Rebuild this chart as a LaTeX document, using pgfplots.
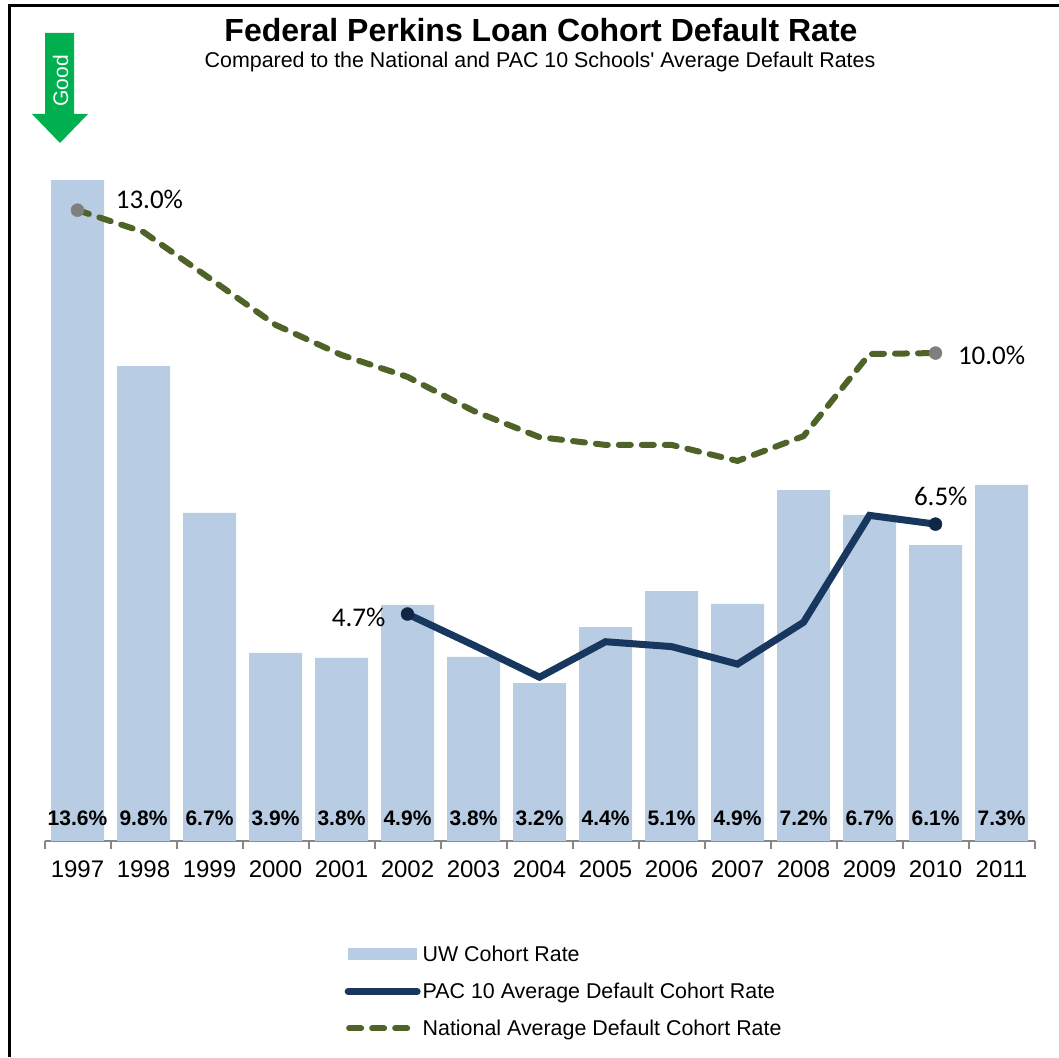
\documentclass[border=0pt]{standalone}
\usepackage{pgfplots}
\pgfplotsset{compat=1.18}
\usepackage{fontspec}
\setmainfont{Liberation Sans}
\newfontfamily\plainsans{Liberation Sans}
\newfontfamily\calib{Carlito}
\definecolor{barc}{HTML}{B8CCE4}
\definecolor{navy}{HTML}{17375E}
\definecolor{navyd}{HTML}{0F2747}
\definecolor{olive}{HTML}{4F6228}
\definecolor{dotg}{HTML}{7F7F7F}
\definecolor{axg}{HTML}{868686}
\definecolor{grn}{HTML}{00B050}
\newcommand{\fs}[1]{\fontsize{#1pt}{#1pt}\selectfont}
\begin{document}
\begin{tikzpicture}[x=1pt,y=1pt]
\useasboundingbox (0,0) rectangle (1059,1057);
\draw[line width=3pt,black] (9.5,0) -- (9.5,1051.5) -- (1059,1051.5);
\begin{axis}[
  at={(44.5pt,216pt)}, anchor=south west,
  scale only axis, width=990pt, height=680.4pt,
  xmin=-0.5, xmax=14.5, ymin=0, ymax=14,
  clip=false,
  axis x line=bottom, axis y line=none,
  axis line style={-, line width=2.5pt, color=axg},
  xtick={0,...,14},
  xticklabels={1997,1998,1999,2000,2001,2002,2003,2004,2005,2006,2007,2008,2009,2010,2011},
  major tick length=0pt,
  minor xtick={-0.5,0.5,...,14.5},
  minor tick length=8pt,
  tick align=outside,
  minor x tick style={line width=2pt, color=axg},
  xticklabel style={font=\fs{24}, inner sep=0pt, text height=17pt, text depth=0pt, yshift=-19pt},
  legend style={at={(0.303,-0.151)}, anchor=north west, draw=none, fill=none, inner sep=0pt, row sep=16pt, font=\fs{21.4}, /tikz/every even column/.append style={column sep=10pt}},
  legend cell align=left,
]
\addplot[ybar, bar width=53pt, fill=barc, draw=none,
  legend image code/.code={\fill[barc] (0pt,-6pt) rectangle (69pt,6pt);}]
  coordinates {(0,13.6)(1,9.77)(2,6.75)(3,3.87)(4,3.77)(5,4.86)(6,3.79)(7,3.25)(8,4.4)(9,5.14)(10,4.88)(11,7.22)(12,6.71)(13,6.09)(14,7.33)};
\addlegendentry{UW Cohort Rate}
\addplot[color=navy, line width=7pt, line join=miter,
  legend image code/.code={\draw[navy,line width=7pt,line cap=round] (0pt,0pt) -- (69pt,0pt);}]
  coordinates {(5,4.67)(6,4.03)(7,3.37)(8,4.10)(9,4.00)(10,3.64)(11,4.50)(12,6.70)(13,6.52)};
\addlegendentry{PAC 10 Average Default Cohort Rate}
\addplot[color=olive, line width=6pt, line cap=round, dash pattern=on 12pt off 11pt,
  legend image code/.code={\draw[olive,line width=6pt,line cap=round,dash pattern=on 12pt off 11pt] (1pt,0pt) -- (64pt,0pt);}]
  coordinates {(0,12.98)(1,12.53)(2,11.58)(3,10.62)(4,10.0)(5,9.55)(6,8.85)(7,8.31)(8,8.15)(9,8.15)(10,7.82)(11,8.33)(12,10.02)(13,10.04)};
\addlegendentry{National Average Default Cohort Rate}
\addplot[forget plot, only marks, mark=*, mark size=6.5pt, mark options={fill=navyd, draw=navyd}]
  coordinates {(5,4.67)(13,6.52)};
\addplot[forget plot, only marks, mark=*, mark size=6.5pt, mark options={fill=dotg, draw=dotg}]
  coordinates {(0,12.98)(13,10.04)};
\addplot[forget plot, only marks, mark=none, nodes near coords, point meta=explicit symbolic,
  nodes near coords align=center, every node near coord/.append style={font=\fs{21}\bfseries, inner sep=0pt, anchor=center}]
  coordinates {(0,0.47)[13.6\%] (1,0.47)[9.8\%] (2,0.47)[6.7\%] (3,0.47)[3.9\%] (4,0.47)[3.8\%] (5,0.47)[4.9\%] (6,0.47)[3.8\%] (7,0.47)[3.2\%] (8,0.47)[4.4\%] (9,0.47)[5.1\%] (10,0.47)[4.9\%] (11,0.47)[7.2\%] (12,0.47)[6.7\%] (13,0.47)[6.1\%] (14,0.47)[7.3\%]};
\node[font=\calib\fs{27}, inner sep=0pt] at (axis cs:1.09,13.2) {13.0\%};
\node[font=\calib\fs{27}, inner sep=0pt] at (axis cs:13.85,10.0) {10.0\%};
\node[font=\calib\fs{27}, inner sep=0pt] at (axis cs:13.08,7.1) {6.5\%};
\node[font=\calib\fs{27}, inner sep=0pt] at (axis cs:4.26,4.6) {4.7\%};
\end{axis}
\node[font=\fs{32}\bfseries, inner sep=0pt] at (541,1027) {Federal Perkins Loan Cohort Default Rate};
\node[font=\plainsans\fs{21.4}, inner sep=0pt] at (540,995.5) {Compared to the National and PAC 10 Schools' Average Default Rates};
\fill[grn] (45,1024) -- (74,1024) -- (74,943) -- (88,943) -- (60,914) -- (32,943) -- (45,943) -- cycle;
\node[font=\fs{21}, text=white, rotate=90, inner sep=0pt] at (60.5,976) {Good};
\end{tikzpicture}
\end{document}
